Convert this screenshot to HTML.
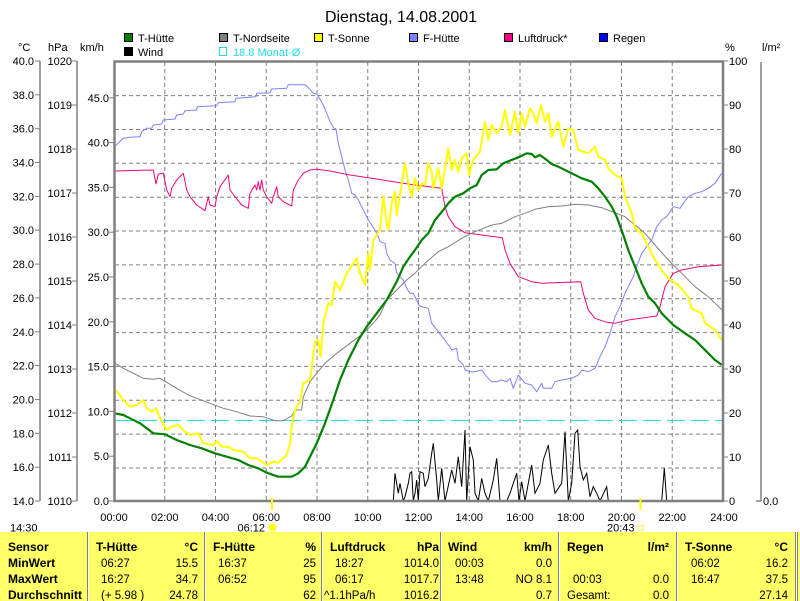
<!DOCTYPE html>
<html><head><meta charset="utf-8"><style>
html,body{margin:0;padding:0;background:#fff;}
svg{display:block;font-family:"Liberation Sans",Arial,sans-serif;}
</style></head><body>
<svg width="800" height="601" viewBox="0 0 800 601" xmlns="http://www.w3.org/2000/svg">
<rect x="0" y="0" width="800" height="601" fill="#fff"/>
<!-- title -->
<text x="401" y="22" font-size="16" text-anchor="middle" fill="#000">Dienstag, 14.08.2001</text>
<!-- legend -->
<g font-size="11" fill="#000">
<rect x="124.5" y="33.5" width="8" height="8" fill="#008000" stroke="#000"/><text x="138" y="42">T-Hütte</text>
<rect x="219.5" y="33.5" width="8" height="8" fill="#808080" stroke="#000"/><text x="233" y="42">T-Nordseite</text>
<rect x="314.5" y="33.5" width="8" height="8" fill="#ffff00" stroke="#000"/><text x="328" y="42">T-Sonne</text>
<rect x="409.5" y="33.5" width="8" height="8" fill="#8080ff" stroke="#000"/><text x="423" y="42">F-Hütte</text>
<rect x="504.5" y="33.5" width="8" height="8" fill="#ff0080" stroke="#000"/><text x="518" y="42">Luftdruck*</text>
<rect x="599.5" y="33.5" width="8" height="8" fill="#0000ff" stroke="#000"/><text x="613" y="42">Regen</text>
<rect x="124.5" y="47.5" width="8" height="8" fill="#000" stroke="#000"/><text x="138" y="56">Wind</text>
<rect x="219.5" y="47.5" width="7" height="8" fill="none" stroke="#20e0e0"/><text x="233" y="56" fill="#20e0e0">18.8 Monat-Ø</text>
</g>
<!-- unit labels -->
<g font-size="11" fill="#000">
<text x="18" y="51">°C</text>
<text x="48" y="51">hPa</text>
<text x="80" y="51">km/h</text>
<text x="725" y="51">%</text>
<text x="762" y="51">l/m²</text>
</g>
<!-- left axes -->
<g stroke="#808080" stroke-width="1.5" fill="none">
<line x1="40" y1="61" x2="40" y2="501"/>
<line x1="77" y1="61" x2="77" y2="501"/>
<line x1="761" y1="62" x2="761" y2="501"/>
<line x1="756" y1="501" x2="761" y2="501"/>
</g>
<g stroke="#808080" stroke-width="1">
<line x1="35" y1="61" x2="40" y2="61"/><line x1="35" y1="94.85" x2="40" y2="94.85"/><line x1="35" y1="128.7" x2="40" y2="128.7"/><line x1="35" y1="162.5" x2="40" y2="162.5"/><line x1="35" y1="196.4" x2="40" y2="196.4"/><line x1="35" y1="230.2" x2="40" y2="230.2"/><line x1="35" y1="264.1" x2="40" y2="264.1"/><line x1="35" y1="297.9" x2="40" y2="297.9"/><line x1="35" y1="331.8" x2="40" y2="331.8"/><line x1="35" y1="365.6" x2="40" y2="365.6"/><line x1="35" y1="399.5" x2="40" y2="399.5"/><line x1="35" y1="433.3" x2="40" y2="433.3"/><line x1="35" y1="467.2" x2="40" y2="467.2"/><line x1="35" y1="501" x2="40" y2="501"/>
<line x1="72" y1="61" x2="77" y2="61"/><line x1="72" y1="105" x2="77" y2="105"/><line x1="72" y1="149" x2="77" y2="149"/><line x1="72" y1="193" x2="77" y2="193"/><line x1="72" y1="237" x2="77" y2="237"/><line x1="72" y1="281" x2="77" y2="281"/><line x1="72" y1="325" x2="77" y2="325"/><line x1="72" y1="369" x2="77" y2="369"/><line x1="72" y1="413" x2="77" y2="413"/><line x1="72" y1="457" x2="77" y2="457"/><line x1="72" y1="501" x2="77" y2="501"/>
<line x1="109" y1="97.8" x2="114" y2="97.8"/><line x1="109" y1="142.6" x2="114" y2="142.6"/><line x1="109" y1="187.4" x2="114" y2="187.4"/><line x1="109" y1="232.2" x2="114" y2="232.2"/><line x1="109" y1="277" x2="114" y2="277"/><line x1="109" y1="321.8" x2="114" y2="321.8"/><line x1="109" y1="366.6" x2="114" y2="366.6"/><line x1="109" y1="411.4" x2="114" y2="411.4"/><line x1="109" y1="456.2" x2="114" y2="456.2"/><line x1="109" y1="501" x2="114" y2="501"/>
<line x1="723" y1="61" x2="728" y2="61"/><line x1="723" y1="105" x2="728" y2="105"/><line x1="723" y1="149" x2="728" y2="149"/><line x1="723" y1="193" x2="728" y2="193"/><line x1="723" y1="237" x2="728" y2="237"/><line x1="723" y1="281" x2="728" y2="281"/><line x1="723" y1="325" x2="728" y2="325"/><line x1="723" y1="369" x2="728" y2="369"/><line x1="723" y1="413" x2="728" y2="413"/><line x1="723" y1="457" x2="728" y2="457"/><line x1="723" y1="501" x2="728" y2="501"/>
</g>
<g font-size="11" fill="#000" text-anchor="end">
<text x="34" y="65">40.0</text><text x="34" y="98.8">38.0</text><text x="34" y="132.7">36.0</text><text x="34" y="166.5">34.0</text><text x="34" y="200.4">32.0</text><text x="34" y="234.2">30.0</text><text x="34" y="268.1">28.0</text><text x="34" y="301.9">26.0</text><text x="34" y="335.8">24.0</text><text x="34" y="369.6">22.0</text><text x="34" y="403.5">20.0</text><text x="34" y="437.3">18.0</text><text x="34" y="471.2">16.0</text><text x="34" y="505">14.0</text>
<text x="72" y="65">1020</text><text x="72" y="109">1019</text><text x="72" y="153">1018</text><text x="72" y="197">1017</text><text x="72" y="241">1016</text><text x="72" y="285">1015</text><text x="72" y="329">1014</text><text x="72" y="373">1013</text><text x="72" y="417">1012</text><text x="72" y="461">1011</text><text x="72" y="505">1010</text>
<text x="109" y="101.8">45.0</text><text x="109" y="146.6">40.0</text><text x="109" y="191.4">35.0</text><text x="109" y="236.2">30.0</text><text x="109" y="281">25.0</text><text x="109" y="325.8">20.0</text><text x="109" y="370.6">15.0</text><text x="109" y="415.4">10.0</text><text x="109" y="460.2">5.0</text><text x="109" y="505">0.0</text>
</g>
<g font-size="11" fill="#000">
<text x="729" y="65">100</text><text x="729" y="109">90</text><text x="729" y="153">80</text><text x="729" y="197">70</text><text x="729" y="241">60</text><text x="729" y="285">50</text><text x="729" y="329">40</text><text x="729" y="373">30</text><text x="729" y="417">20</text><text x="729" y="461">10</text><text x="729" y="505">0</text>
<text x="763" y="505">0.0</text>
</g>
<!-- grid -->
<g stroke="#808080" stroke-width="1" stroke-dasharray="4,3" fill="none">
<line x1="115" y1="95.6" x2="722" y2="95.6"/><line x1="115" y1="129.5" x2="722" y2="129.5"/><line x1="115" y1="163.3" x2="722" y2="163.3"/><line x1="115" y1="197.2" x2="722" y2="197.2"/><line x1="115" y1="231" x2="722" y2="231"/><line x1="115" y1="264.9" x2="722" y2="264.9"/><line x1="115" y1="298.7" x2="722" y2="298.7"/><line x1="115" y1="332.6" x2="722" y2="332.6"/><line x1="115" y1="366.4" x2="722" y2="366.4"/><line x1="115" y1="400.3" x2="722" y2="400.3"/><line x1="115" y1="434.1" x2="722" y2="434.1"/><line x1="115" y1="468" x2="722" y2="468"/>
<line x1="164.75" y1="62" x2="164.75" y2="500"/><line x1="215.5" y1="62" x2="215.5" y2="500"/><line x1="266.25" y1="62" x2="266.25" y2="500"/><line x1="317" y1="62" x2="317" y2="500"/><line x1="367.75" y1="62" x2="367.75" y2="500"/><line x1="418.5" y1="62" x2="418.5" y2="500"/><line x1="469.25" y1="62" x2="469.25" y2="500"/><line x1="520" y1="62" x2="520" y2="500"/><line x1="570.75" y1="62" x2="570.75" y2="500"/><line x1="621.5" y1="62" x2="621.5" y2="500"/><line x1="672.25" y1="62" x2="672.25" y2="500"/>
</g>
<!-- month average -->
<line x1="115" y1="420.5" x2="722" y2="420.5" stroke="#20e0e0" stroke-width="1" stroke-dasharray="18,6"/>
<!-- series -->
<g fill="none" stroke-linejoin="round">
<polyline stroke="#8080ff" stroke-width="1" points="115,146 123.3,138.3 130,137.3 140,136.7 141.7,131.7 146.7,128.3 151.7,128.3 153.3,125 161.7,124 163.3,120 175,119 176.7,115 183.3,114 185,110.7 196.7,110 197.3,106.7 216.7,105.7 218.3,102.7 235,101.7 236,98.3 250,97.3 256,96.7 256.7,93.3 270,92.7 271.7,89 286.7,88.3 288.3,84.7 305,84.7 310,89.3 313.3,93.3 316.7,94 320,99.3 323.3,105 326.7,113.3 330,121.7 334,128.3 336,129 338.3,143.3 341.7,156.7 345,170 348.3,180 351.7,193.3 355,195 358.3,200 361.7,206.7 365,213.3 368.3,220 371.7,225 375,230 378.3,236.7 380,241.7 385,243.3 386.7,253.3 390,260 395,263.3 396.7,273.3 400,276.7 403.3,280 406.7,288.3 410,293.3 413.3,293.3 416.7,300 419.3,306 428.3,308.3 431.7,323.3 438.3,331.7 445,340 451.7,350 456.7,348.3 458.3,360 463.3,365 465,370 470,371.7 475,371.7 481.7,370 486.7,376.7 491.7,381.7 496.7,381.7 501.7,380 506.7,381.7 510,378.3 513.3,388.3 518.3,375 525,383.3 531.7,385 536.7,391.7 541.7,383.3 543.3,388.3 551.7,388.3 555,381.7 561.7,380 571.7,378.3 578.3,375 581.7,370 588.3,371.7 595,368.3 600,356.7 605,346.7 610,333.3 615,316.7 620,306.7 625,293.3 628.3,286.7 633.3,276.7 636.7,266.7 641.7,253.3 646.7,246.7 651.7,240 656.7,226.7 661.7,220 666.7,216.7 673.3,206.7 680,208.3 683.3,203.3 688.3,196.7 695,193.3 701.7,191.7 708.3,188.3 715,183.3 721.7,173.3"/>
<polyline stroke="#f0087a" stroke-width="1" points="115,171 153.3,170 156,184 158.3,174 163.3,173.3 166.7,190 170,196.7 171.7,188.3 176.7,180 183.3,173.3 186.7,190 190,196.7 196.7,205 205,210.7 208.3,196.7 210,205 215,206.7 216.7,196.7 220,186.7 228.3,175 230,190 235,196.7 241.7,205 248.3,208.3 250,193.3 255,185 256.7,190 258.3,181.7 260,190 261.7,180 263.3,190 266.7,196.7 271.7,203.3 273.3,196.7 276.7,186.7 278.3,196.7 283.3,201.7 291.7,206 293.3,190 298.3,180 303.3,173.3 310,170 316.7,169.3 330,171 350,175 376.7,179 403.3,183.3 415,185 441.7,188.3 445,206.7 448.3,216.7 455,226.7 465,232.7 481.7,235 502.3,237.7 505,250 510,263.3 518.3,276.7 531.7,281.7 541.7,283.3 580.7,281.7 583.3,293.3 588.3,310 595,318.3 606.7,322.3 615,323.3 628.3,320 656.7,316 660,306.7 665,286.7 673.3,273.3 681.7,270 698.3,266.7 722,265"/>
<polyline stroke="#808080" stroke-width="1" points="115,363.3 123.3,368.3 133.3,373.3 143.3,378.3 153.3,379.3 160,378.3 168.3,383.3 176.7,388.3 188.3,395 196.7,398.3 210,403.3 223.3,408.3 236.7,411.7 250,416 263.3,416.7 275,420.7 283.3,420.7 291.7,416 295,410 301.7,410 303.3,396.7 310,381.7 316.7,373.3 325,363.3 336.7,353.3 350,343.3 363.3,333.3 373.3,323.3 380,315 386.7,300 396.7,290 406.7,280 415,273.3 425,263.3 438.3,251.7 448.3,246.7 461.7,238.3 475,231.7 491.7,225 501.7,223.3 515,216.7 525,213.3 535,209.3 548.3,206.7 561.7,206 575,204.3 588.3,205 601.7,207.7 615,212.7 625,216.7 635,225 645,233.3 655,245 668.3,260 681.7,273.3 695,286.7 708.3,296.7 722,310"/>
<polyline stroke="#ffff00" stroke-width="2" points="115,390 118.3,393.3 123.3,400 130,406.7 136.7,405 143.3,400 146.7,408.3 151.7,411.7 156,408.3 161.7,421.7 166.7,430 171.7,426.7 178.3,425 185,431.7 190,435 198.3,433.3 203.3,443.3 213.3,445 216.7,440.7 221.7,446.7 228.3,446.7 233.3,450 243.3,451.7 250,458.3 256.7,458.3 266.7,465 273.3,461.7 278.3,462.7 286.7,455 290,443.3 291.7,426.7 295,410 300,401.7 303.3,383.3 310,380 315,341.7 318.3,340 320.7,356.7 323.3,323.3 328.3,303.3 331.7,305 335,281.7 340,290 346.7,273.3 356.7,258.3 360,273.3 365,285 368.3,253.3 370,270 373.3,240 376.7,235 380,230 383.3,196.7 386.7,223.3 388.3,230 391.7,203.3 395,191.7 396.7,215 400,195 405,163.3 408.3,183.3 411.7,196.7 415,178.3 418.3,190 421.7,183.3 425,185 428.3,163.3 431.7,171.7 433.3,188.3 438.3,168.3 441.7,188.3 448.3,148.3 451.7,170 455,160 458.3,171.7 461.7,158.3 466.7,153.3 469,175 473.3,160 480,151.7 485,121.7 488.3,140 491.7,125 496.7,133.3 501.7,126.7 505,110 510,135 515,111.7 518.3,133.3 521.7,113.3 525,126.7 530,108.3 533.3,113.3 536.7,123.3 541,105 545,121.7 548.3,113.3 551.7,136.7 558.3,121.7 563.3,146.7 568.3,128.3 573.3,130 578.3,150 588.3,153.3 595,146.7 598.3,156.7 605,160 608.3,168.3 615,175 621.7,178.3 625,196.7 631.7,213.3 635,228.3 641.7,233.3 648.3,246.7 655,260 661.7,270 668.3,278.3 678.3,285 688.3,296.7 691.7,308.3 701.7,313.3 705,323.3 715,330 721.7,340"/>
<polyline stroke="#008000" stroke-width="2.2" points="115,413.3 123.3,415 130,418.3 140,423.3 146.7,428.3 153.3,433.3 165,434.3 176.7,440 190,445 201.7,448.3 215,453.3 226.7,456.7 238.3,460 248.3,465 258.3,468.3 266.7,472.7 273.3,475 278.3,476.7 291.7,476.7 298.3,473.3 305,466.7 310,456.7 316.7,443.3 325,423.3 333.3,400 340,380 348.3,360 358.3,340 366.7,326.7 376.7,313.3 386.7,300 396.7,281.7 403.3,266.7 410,256.7 415,250 421.7,240 428.3,233.3 435,220 443.3,210 448.3,203.3 455,196.7 463.3,193.3 470,188.3 476.7,185 481.7,175 488.3,170 496.7,169.3 503.3,163.3 513.3,159.3 520,156.7 526.7,153.3 531.7,154 535,157.3 540,155 546.7,160 551.7,164 558.3,166.7 571.7,173.3 581.7,178.3 591.7,181.7 598.3,188.3 605,196.7 611.7,206.7 616.7,216.7 623.3,235 628.3,250 635,266.7 641.7,283.3 648.3,296.7 655,303.3 661.7,313.3 673.3,325 685,333.3 695,340 706.7,351.7 715,360 722,365"/>
<polyline stroke="#000" stroke-width="1" stroke-linejoin="miter" points="393.3,501 395,473.3 398.3,493.3 400,483.3 403.3,501 405,496.7 408.3,483.3 410,473.3 411.7,471.7 413.3,501 415,493.3 416.7,480 418.3,501 420,471.7 423.3,473.3 425,486.7 428.3,478.3 431.7,453.3 433.3,443.3 436.7,480 438.3,501 441.7,468.3 445,501 451.7,470 455,483.3 458.3,456.7 461.7,486.7 465,430 466.7,501 470,446.7 473.3,460 475,493.3 478.3,501 481.7,478.3 485,493.3 488.3,501 493.3,480 496.7,458.3 500,501 506.7,501 510,493.3 513.3,483.3 516.7,473.3 519,501 521.7,481.7 525,501 531.7,465 535,493.3 540,483.3 543.3,460 548.3,445 551.7,473.3 555,493.3 561.7,483.3 565,431.7 568.3,501 571.7,483.3 575,433.3 577.7,430 580,466.7 583.3,480 586.7,473.3 590,496.7 593.3,486.7 596.7,493.3 600,501 606.7,486.7 608.3,501 661.7,501 664.3,468.3 666.7,501"/>
</g>
<!-- frame -->
<rect x="114.5" y="61.5" width="608.5" height="439.5" fill="none" stroke="#808080" stroke-width="2.5"/>
<!-- sunrise / sunset markers -->
<line x1="272" y1="498" x2="272" y2="510" stroke="#ffff00" stroke-width="2"/>
<line x1="640.5" y1="498" x2="640.5" y2="510" stroke="#ffff00" stroke-width="2"/>
<!-- time labels -->
<g font-size="11" fill="#000" text-anchor="middle">
<text x="114" y="521">00:00</text><text x="164.75" y="521">02:00</text><text x="215.5" y="521">04:00</text><text x="266.25" y="521">06:00</text><text x="317" y="521">08:00</text><text x="367.75" y="521">10:00</text><text x="418.5" y="521">12:00</text><text x="469.25" y="521">14:00</text><text x="520" y="521">16:00</text><text x="570.75" y="521">18:00</text><text x="621.5" y="521">20:00</text><text x="672.25" y="521">22:00</text><text x="724" y="521">24:00</text>
</g>
<g font-size="11" fill="#000">
<text x="10" y="531.5">14:30</text>
<text x="237.5" y="531.5">06:12</text>
<text x="607" y="531.5">20:43</text>
</g>
<circle cx="272.5" cy="527.5" r="5" fill="#ffffb0"/>
<circle cx="272.5" cy="527.5" r="3.5" fill="#ffff00"/>
<rect x="638.5" y="525.5" width="5" height="5" fill="none" stroke="#ffff60" stroke-width="1"/>
<!-- table -->
<rect x="0" y="532" width="800" height="69" fill="#ffff66"/>
<g stroke-width="1">
<line x1="87.5" y1="532" x2="87.5" y2="601" stroke="#808080"/><line x1="88.5" y1="532" x2="88.5" y2="601" stroke="#fff"/>
<line x1="204.5" y1="532" x2="204.5" y2="601" stroke="#808080"/><line x1="205.5" y1="532" x2="205.5" y2="601" stroke="#fff"/>
<line x1="321.5" y1="532" x2="321.5" y2="601" stroke="#808080"/><line x1="322.5" y1="532" x2="322.5" y2="601" stroke="#fff"/>
<line x1="440.5" y1="532" x2="440.5" y2="601" stroke="#808080"/><line x1="441.5" y1="532" x2="441.5" y2="601" stroke="#fff"/>
<line x1="558.5" y1="532" x2="558.5" y2="601" stroke="#808080"/><line x1="559.5" y1="532" x2="559.5" y2="601" stroke="#fff"/>
<line x1="676.5" y1="532" x2="676.5" y2="601" stroke="#808080"/><line x1="677.5" y1="532" x2="677.5" y2="601" stroke="#fff"/>
<line x1="795.5" y1="532" x2="795.5" y2="601" stroke="#808080"/><line x1="796.5" y1="532" x2="796.5" y2="601" stroke="#fff"/><line x1="797.5" y1="532" x2="797.5" y2="601" stroke="#808080"/>
</g>
<g font-size="12" font-weight="bold" fill="#000">
<text x="8" y="551">Sensor</text><text x="8" y="567">MinWert</text><text x="8" y="583">MaxWert</text><text x="8" y="599">Durchschnitt</text>
<text x="96" y="551">T-Hütte</text><text x="198" y="551" text-anchor="end">°C</text>
<text x="213" y="551">F-Hütte</text><text x="316" y="551" text-anchor="end">%</text>
<text x="330" y="551">Luftdruck</text><text x="439" y="551" text-anchor="end">hPa</text>
<text x="448" y="551">Wind</text><text x="552" y="551" text-anchor="end">km/h</text>
<text x="567" y="551">Regen</text><text x="669" y="551" text-anchor="end">l/m²</text>
<text x="685" y="551">T-Sonne</text><text x="788" y="551" text-anchor="end">°C</text>
</g>
<g font-size="11.5" fill="#000">
<text x="101" y="567">06:27</text><text x="198" y="567" text-anchor="end">15.5</text>
<text x="101" y="583">16:27</text><text x="198" y="583" text-anchor="end">34.7</text>
<text x="101" y="599">(+ 5.98 )</text><text x="198" y="599" text-anchor="end">24.78</text>
<text x="218" y="567">16:37</text><text x="316" y="567" text-anchor="end">25</text>
<text x="218" y="583">06:52</text><text x="316" y="583" text-anchor="end">95</text>
<text x="316" y="599" text-anchor="end">62</text>
<text x="335" y="567">18:27</text><text x="439" y="567" text-anchor="end">1014.0</text>
<text x="335" y="583">06:17</text><text x="439" y="583" text-anchor="end">1017.7</text>
<text x="324" y="599">^1.1hPa/h</text><text x="439" y="599" text-anchor="end">1016.2</text>
<text x="455" y="567">00:03</text><text x="552" y="567" text-anchor="end">0.0</text>
<text x="455" y="583">13:48</text><text x="552" y="583" text-anchor="end">NO 8.1</text>
<text x="552" y="599" text-anchor="end">0.7</text>
<text x="573" y="583">00:03</text><text x="669" y="583" text-anchor="end">0.0</text>
<text x="567" y="599">Gesamt:</text><text x="669" y="599" text-anchor="end">0.0</text>
<text x="691" y="567">06:02</text><text x="788" y="567" text-anchor="end">16.2</text>
<text x="691" y="583">16:47</text><text x="788" y="583" text-anchor="end">37.5</text>
<text x="788" y="599" text-anchor="end">27.14</text>
</g>
</svg>
</body></html>
